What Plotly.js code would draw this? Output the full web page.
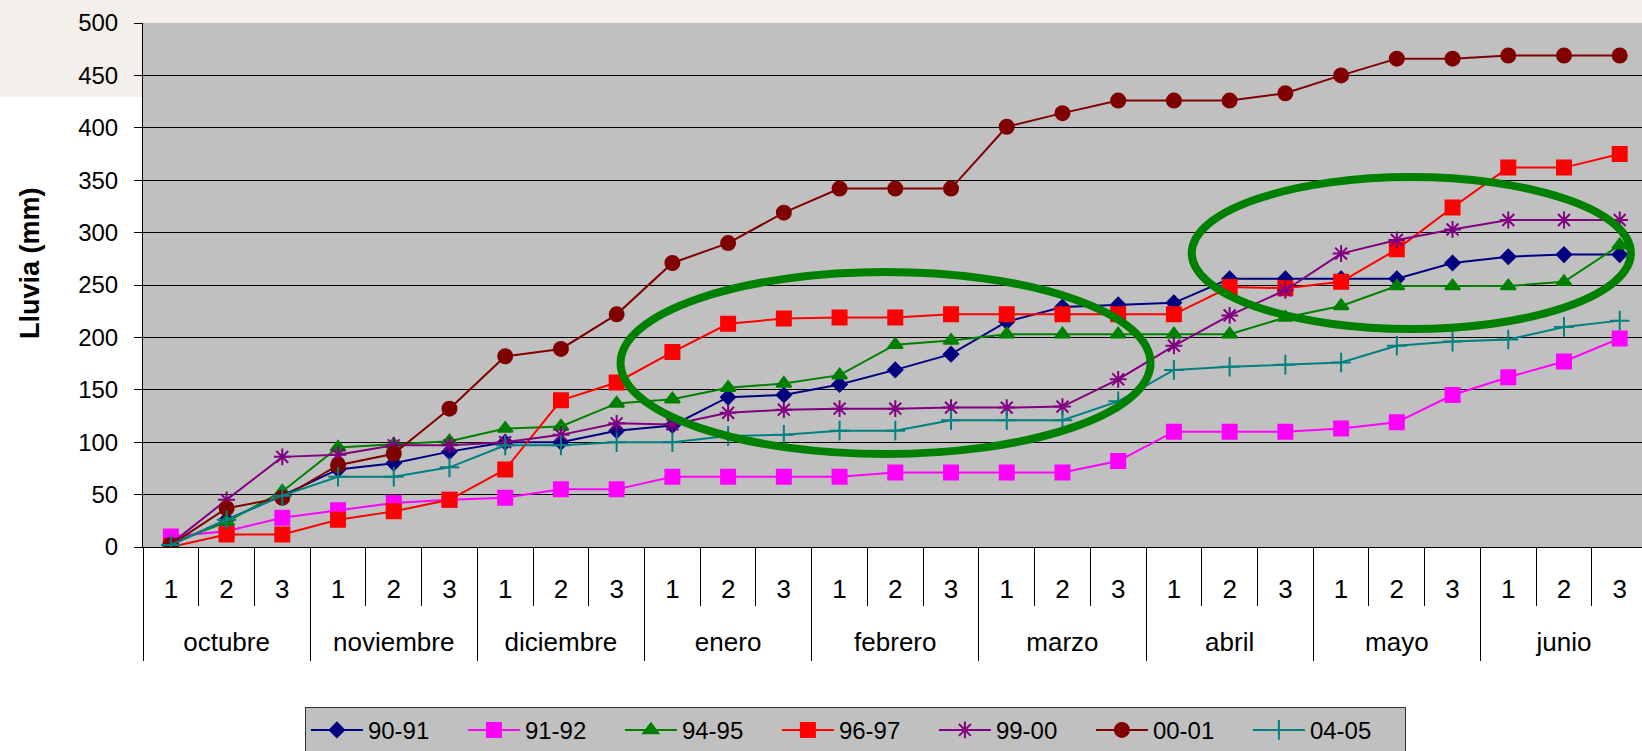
<!DOCTYPE html>
<html>
<head>
<meta charset="utf-8">
<script src="https://cdn.plot.ly/plotly-3.0.1.min.js"></script>
<style>
  body { margin: 0; background: #fff; }
  #myDiv { width: 1642px; height: 751px; }
</style>
</head>
<body>
<div id="myDiv"></div>
<script>
// meses y decadas del eje x
const meses = ['octubre', 'noviembre', 'diciembre', 'enero', 'febrero', 'marzo', 'abril', 'mayo', 'junio'];
const decadas = ['1', '2', '3'];

// lluvia acumulada (mm) por campaña
const s9091 = [2, 26, 49, 74, 80, 91, 100, 100, 111, 116, 143, 145, 155, 169, 184, 215, 229, 231, 233, 256, 256, 256, 256, 271, 277, 279, 279];
const s9192 = [10, 15, 28, 35, 42, 45, 47, 55, 55, 67, 67, 67, 67, 71, 71, 71, 71, 82, 110, 110, 110, 113, 119, 145, 162, 177, 199];
const s9495 = [3, 24, 53, 95, 98, 101, 113, 115, 137, 141, 152, 156, 164, 193, 197, 203, 203, 203, 203, 203, 219, 230, 249, 249, 249, 253, 288];
const s9697 = [0, 12, 12, 26, 34, 45, 74, 140, 157, 186, 213, 218, 219, 219, 222, 222, 222, 222, 222, 248, 247, 253, 284, 324, 362, 362, 375];
const s9900 = [3, 45, 86, 88, 97, 97, 100, 107, 118, 117, 128, 131, 132, 132, 133, 133, 134, 160, 192, 221, 245, 280, 293, 303, 312, 312, 312];
const s0001 = [2, 37, 47, 78, 89, 132, 182, 189, 222, 271, 290, 319, 342, 342, 342, 401, 414, 426, 426, 426, 433, 450, 466, 466, 469, 469, 469];
const s0405 = [2, 26, 49, 67, 67, 76, 97, 97, 100, 100, 106, 107, 111, 111, 121, 121, 121, 139, 169, 172, 174, 176, 192, 196, 198, 210, 216];

const FONT = 'Liberation Sans, Arial, sans-serif';

// one point per decada, indexes on a linear axis
let subLabels = [];
meses.forEach(() => decadas.forEach(d => subLabels.push(d)));
const xIdx = subLabels.map((_, i) => i);
const mesIdx = meses.map((_, i) => i * decadas.length + 1);

const makeTrace = (y, name, color, symbol, size) => {
    return {
        x: xIdx,
        y: y,
        name: name,
        type: 'scatter',
        mode: 'lines+markers',
        line: {color: color, width: 2},
        marker: {symbol: symbol, size: size, color: color, line: {color: color, width: 2}}
    };
};

const data = [
    makeTrace(s9091, '90-91', '#000080', 'diamond', 11),
    makeTrace(s9192, '91-92', '#ff00ff', 'square', 14),
    makeTrace(s9495, '94-95', '#008000', 'triangle-up', 13),
    makeTrace(s9697, '96-97', '#ff0000', 'square', 14),
    makeTrace(s9900, '99-00', '#800080', 'asterisk-open', 14),
    makeTrace(s0001, '00-01', '#800000', 'circle', 14),
    makeTrace(s0405, '04-05', '#008080', 'cross-thin-open', 14),
    // empty trace so the month axis gets drawn
    {x: [], y: [], xaxis: 'x2', showlegend: false, hoverinfo: 'skip', type: 'scatter'}
];

const layout = {
    width: 1642,
    height: 751,
    margin: {l: 143, r: 0, t: 23, b: 204, autoexpand: false},
    paper_bgcolor: '#ffffff',
    plot_bgcolor: '#c0c0c0',
    font: {family: FONT, color: '#000'},
    showlegend: true,
    xaxis: {
        type: 'linear',
        range: [-0.5, 26.4],
        tickmode: 'array',
        tickvals: xIdx,
        ticktext: subLabels,
        ticks: '',
        ticklabelstandoff: 19,
        tickfont: {family: FONT, size: 26, color: '#000'},
        showgrid: false,
        zeroline: false,
        showline: true,
        linecolor: '#000',
        linewidth: 1,
        minor: {tickmode: 'linear', tick0: -0.5, dtick: 1, ticks: 'outside', ticklen: 58, tickcolor: '#000', tickwidth: 1, showgrid: false}
    },
    xaxis2: {
        type: 'linear',
        overlaying: 'x',
        anchor: 'y',
        side: 'bottom',
        range: [-0.5, 26.4],
        tickmode: 'array',
        tickvals: mesIdx,
        ticktext: meses,
        ticks: '',
        ticklabelstandoff: 77,
        tickfont: {family: FONT, size: 26, color: '#000'},
        showgrid: false,
        zeroline: false,
        showline: false,
        minor: {tickmode: 'linear', tick0: -0.5, dtick: 3, ticks: 'outside', ticklen: 113, tickcolor: '#000', tickwidth: 1, showgrid: false}
    },
    yaxis: {
        range: [0, 500],
        tick0: 0,
        dtick: 50,
        ticks: 'outside',
        ticklen: 8,
        tickcolor: '#000',
        ticklabelstandoff: 11,
        tickfont: {family: FONT, size: 24, color: '#000'},
        showline: true,
        linecolor: '#000',
        linewidth: 1,
        gridcolor: '#000',
        gridwidth: 1,
        zeroline: false
    },
    legend: {
        orientation: 'h',
        x: 0.108,
        xanchor: 'left',
        y: -0.305,
        yanchor: 'top',
        bgcolor: '#c0c0c0',
        bordercolor: '#333',
        borderwidth: 1,
        font: {family: FONT, size: 24, color: '#000'},
        entrywidth: 90,
        entrywidthmode: 'pixels',
        itemwidth: 52
    },
    annotations: [{
        text: 'Lluvia (mm)',
        xref: 'paper', yref: 'paper',
        x: -0.0754, y: 0.542,
        xanchor: 'center', yanchor: 'middle',
        textangle: -90,
        showarrow: false,
        font: {family: FONT, size: 27, color: '#000', weight: 'bold'}
    }],
    shapes: [
        // textured band behind the top
        {type: 'rect', xref: 'paper', yref: 'paper', x0: -0.1, x1: 1.01, y0: 1, y1: 1.05, fillcolor: '#f3efea', line: {width: 0}, layer: 'below'},
        {type: 'rect', xref: 'paper', yref: 'paper', x0: -0.1, x1: 0, y0: 0.8588, y1: 1.05, fillcolor: '#f3efea', line: {width: 0}, layer: 'below'},
        // green ellipses
        {type: 'circle', xref: 'x', yref: 'y', x0: 8.07, x1: 17.58, y0: 88.7, y1: 262.4, line: {color: '#008000', width: 8}},
        {type: 'circle', xref: 'x', yref: 'y', x0: 18.32, x1: 26.2, y0: 208, y1: 353, line: {color: '#008000', width: 8}}
    ]
};

Plotly.newPlot('myDiv', data, layout, {displayModeBar: false, staticPlot: true});
</script>
</body>
</html>
